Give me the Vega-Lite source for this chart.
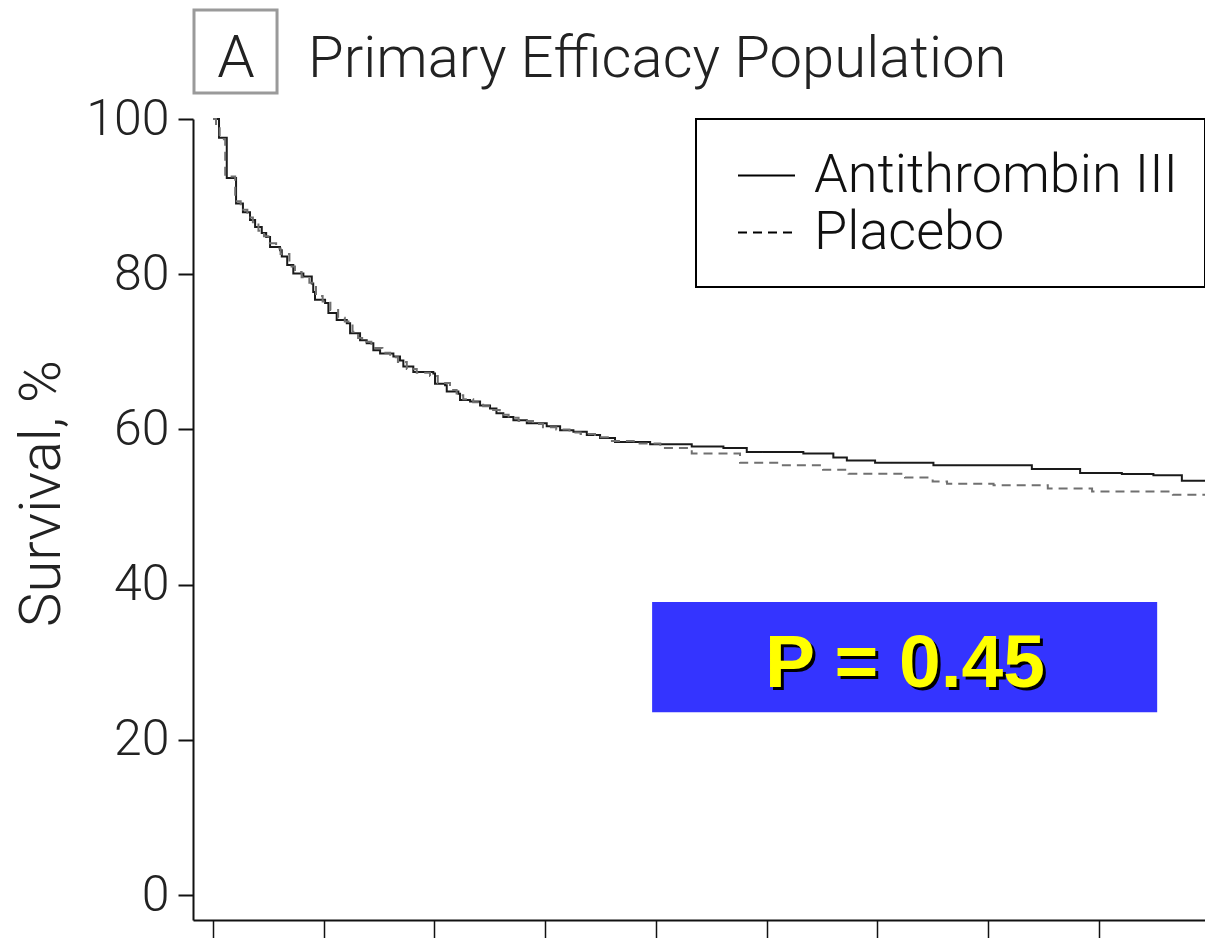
{
  "$schema": "https://vega.github.io/schema/vega-lite/v6.json",
  "autosize": "none",
  "padding": {"left": 193, "top": 119, "right": 0, "bottom": 18},
  "width": 1012,
  "height": 801,
  "background": "white",
  "config": {
    "view": {"stroke": null},
    "font": "Roboto",
    "legend": {"strokeWidth": 2}
  },
  "datasets": {
    "km": [
      {"group": "Antithrombin III", "day": 0, "surv": 100},
      {"group": "Antithrombin III", "day": 0.54, "surv": 97.6},
      {"group": "Antithrombin III", "day": 1.24, "surv": 92.4},
      {"group": "Antithrombin III", "day": 2.08, "surv": 89.1},
      {"group": "Antithrombin III", "day": 2.7, "surv": 88.0},
      {"group": "Antithrombin III", "day": 3.34, "surv": 87.0},
      {"group": "Antithrombin III", "day": 3.8, "surv": 86.1},
      {"group": "Antithrombin III", "day": 4.4, "surv": 85.3},
      {"group": "Antithrombin III", "day": 4.8, "surv": 84.8},
      {"group": "Antithrombin III", "day": 5.15, "surv": 83.5},
      {"group": "Antithrombin III", "day": 6.05, "surv": 83.1},
      {"group": "Antithrombin III", "day": 6.21, "surv": 82.3},
      {"group": "Antithrombin III", "day": 6.7, "surv": 81.2},
      {"group": "Antithrombin III", "day": 7.25, "surv": 80.1},
      {"group": "Antithrombin III", "day": 8.16, "surv": 79.7},
      {"group": "Antithrombin III", "day": 8.92, "surv": 78.8},
      {"group": "Antithrombin III", "day": 9.05, "surv": 77.7},
      {"group": "Antithrombin III", "day": 9.21, "surv": 76.7},
      {"group": "Antithrombin III", "day": 10.12, "surv": 76.3},
      {"group": "Antithrombin III", "day": 10.42, "surv": 75.0},
      {"group": "Antithrombin III", "day": 11.17, "surv": 74.1},
      {"group": "Antithrombin III", "day": 12.08, "surv": 73.7},
      {"group": "Antithrombin III", "day": 12.38, "surv": 72.4},
      {"group": "Antithrombin III", "day": 13.28, "surv": 71.5},
      {"group": "Antithrombin III", "day": 13.88, "surv": 71.1},
      {"group": "Antithrombin III", "day": 14.48, "surv": 70.2},
      {"group": "Antithrombin III", "day": 15.09, "surv": 69.8},
      {"group": "Antithrombin III", "day": 16.29, "surv": 69.4},
      {"group": "Antithrombin III", "day": 16.89, "surv": 68.9},
      {"group": "Antithrombin III", "day": 17.19, "surv": 68.1},
      {"group": "Antithrombin III", "day": 18.09, "surv": 67.4},
      {"group": "Antithrombin III", "day": 19.9, "surv": 67.2},
      {"group": "Antithrombin III", "day": 20.05, "surv": 65.9},
      {"group": "Antithrombin III", "day": 20.96, "surv": 65.7},
      {"group": "Antithrombin III", "day": 21.11, "surv": 64.9},
      {"group": "Antithrombin III", "day": 22.16, "surv": 64.6},
      {"group": "Antithrombin III", "day": 22.31, "surv": 63.8},
      {"group": "Antithrombin III", "day": 23.22, "surv": 63.6},
      {"group": "Antithrombin III", "day": 24.12, "surv": 63.1},
      {"group": "Antithrombin III", "day": 25.02, "surv": 62.7},
      {"group": "Antithrombin III", "day": 25.6, "surv": 62.1},
      {"group": "Antithrombin III", "day": 26.22, "surv": 61.6},
      {"group": "Antithrombin III", "day": 27.13, "surv": 61.2},
      {"group": "Antithrombin III", "day": 28.34, "surv": 60.8},
      {"group": "Antithrombin III", "day": 30.14, "surv": 60.4},
      {"group": "Antithrombin III", "day": 31.35, "surv": 59.9},
      {"group": "Antithrombin III", "day": 32.55, "surv": 59.7},
      {"group": "Antithrombin III", "day": 33.76, "surv": 59.3},
      {"group": "Antithrombin III", "day": 34.96, "surv": 58.9},
      {"group": "Antithrombin III", "day": 36.31, "surv": 58.4},
      {"group": "Antithrombin III", "day": 39.48, "surv": 58.1},
      {"group": "Antithrombin III", "day": 43.24, "surv": 57.8},
      {"group": "Antithrombin III", "day": 46.1, "surv": 57.6},
      {"group": "Antithrombin III", "day": 48.21, "surv": 57.1},
      {"group": "Antithrombin III", "day": 53.32, "surv": 56.9},
      {"group": "Antithrombin III", "day": 56.03, "surv": 56.4},
      {"group": "Antithrombin III", "day": 57.25, "surv": 56.0},
      {"group": "Antithrombin III", "day": 59.8, "surv": 55.7},
      {"group": "Antithrombin III", "day": 65.07, "surv": 55.4},
      {"group": "Antithrombin III", "day": 73.96, "surv": 54.9},
      {"group": "Antithrombin III", "day": 78.32, "surv": 54.4},
      {"group": "Antithrombin III", "day": 82.09, "surv": 54.25},
      {"group": "Antithrombin III", "day": 84.94, "surv": 54.1},
      {"group": "Antithrombin III", "day": 87.51, "surv": 53.4},
      {"group": "Antithrombin III", "day": 89.6, "surv": 53.4},
      {"group": "Placebo", "day": 0, "surv": 100},
      {"group": "Placebo", "day": 0.27, "surv": 98.8},
      {"group": "Placebo", "day": 0.6, "surv": 97.4},
      {"group": "Placebo", "day": 1.1, "surv": 92.6},
      {"group": "Placebo", "day": 2.0, "surv": 89.4},
      {"group": "Placebo", "day": 2.5, "surv": 88.3},
      {"group": "Placebo", "day": 3.1, "surv": 87.3},
      {"group": "Placebo", "day": 3.6, "surv": 86.4},
      {"group": "Placebo", "day": 4.1, "surv": 85.6},
      {"group": "Placebo", "day": 4.6, "surv": 84.9},
      {"group": "Placebo", "day": 5.0, "surv": 84.0},
      {"group": "Placebo", "day": 5.7, "surv": 83.3},
      {"group": "Placebo", "day": 6.1, "surv": 82.6},
      {"group": "Placebo", "day": 6.9, "surv": 81.0},
      {"group": "Placebo", "day": 7.4, "surv": 80.3},
      {"group": "Placebo", "day": 8.0, "surv": 79.6},
      {"group": "Placebo", "day": 8.7, "surv": 78.9},
      {"group": "Placebo", "day": 9.3, "surv": 77.2},
      {"group": "Placebo", "day": 9.9, "surv": 76.5},
      {"group": "Placebo", "day": 10.6, "surv": 75.4},
      {"group": "Placebo", "day": 11.3, "surv": 74.4},
      {"group": "Placebo", "day": 11.9, "surv": 73.9},
      {"group": "Placebo", "day": 12.6, "surv": 72.6},
      {"group": "Placebo", "day": 13.1, "surv": 71.8},
      {"group": "Placebo", "day": 13.7, "surv": 71.3},
      {"group": "Placebo", "day": 14.3, "surv": 70.5},
      {"group": "Placebo", "day": 15.3, "surv": 69.9},
      {"group": "Placebo", "day": 16.0, "surv": 69.3},
      {"group": "Placebo", "day": 16.7, "surv": 68.7},
      {"group": "Placebo", "day": 17.5, "surv": 67.8},
      {"group": "Placebo", "day": 18.4, "surv": 67.3},
      {"group": "Placebo", "day": 19.6, "surv": 66.9},
      {"group": "Placebo", "day": 20.3, "surv": 66.0},
      {"group": "Placebo", "day": 21.4, "surv": 65.1},
      {"group": "Placebo", "day": 22.0, "surv": 64.4},
      {"group": "Placebo", "day": 22.6, "surv": 63.9},
      {"group": "Placebo", "day": 23.5, "surv": 63.5},
      {"group": "Placebo", "day": 24.4, "surv": 63.0},
      {"group": "Placebo", "day": 25.3, "surv": 62.5},
      {"group": "Placebo", "day": 25.9, "surv": 61.9},
      {"group": "Placebo", "day": 26.7, "surv": 61.5},
      {"group": "Placebo", "day": 27.6, "surv": 61.1},
      {"group": "Placebo", "day": 28.9, "surv": 60.7},
      {"group": "Placebo", "day": 29.8, "surv": 60.3},
      {"group": "Placebo", "day": 31.0, "surv": 60.0},
      {"group": "Placebo", "day": 32.2, "surv": 59.6},
      {"group": "Placebo", "day": 33.2, "surv": 59.4},
      {"group": "Placebo", "day": 34.5, "surv": 59.0},
      {"group": "Placebo", "day": 35.9, "surv": 58.5},
      {"group": "Placebo", "day": 38.0, "surv": 58.2},
      {"group": "Placebo", "day": 40.4, "surv": 57.6},
      {"group": "Placebo", "day": 43.24, "surv": 56.9},
      {"group": "Placebo", "day": 47.6, "surv": 55.7},
      {"group": "Placebo", "day": 51.2, "surv": 55.4},
      {"group": "Placebo", "day": 55.1, "surv": 54.8},
      {"group": "Placebo", "day": 57.4, "surv": 54.3},
      {"group": "Placebo", "day": 62.5, "surv": 53.8},
      {"group": "Placebo", "day": 65.0, "surv": 53.3},
      {"group": "Placebo", "day": 66.3, "surv": 53.0},
      {"group": "Placebo", "day": 70.5, "surv": 52.8},
      {"group": "Placebo", "day": 75.4, "surv": 52.4},
      {"group": "Placebo", "day": 79.4, "surv": 52.0},
      {"group": "Placebo", "day": 86.7, "surv": 51.6},
      {"group": "Placebo", "day": 89.6, "surv": 51.6}
    ],
    "one": [{"k": 1}]
  },
  "encoding": {
    "x": {
      "type": "quantitative",
      "scale": {"domain": [-1.81, 89.6], "nice": false, "zero": false},
      "axis": {
        "title": null, "values": [0, 10, 20, 30, 40, 50, 60, 70, 80],
        "labels": false, "grid": false, "tickSize": 22, "tickColor": "#111",
        "tickWidth": 1.5, "domainColor": "#111", "domainWidth": 2
      }
    },
    "y": {
      "type": "quantitative",
      "scale": {"domain": [-3.2, 100], "nice": false, "zero": false},
      "axis": {
        "title": "Survival, %", "values": [0, 20, 40, 60, 80, 100],
        "grid": false, "tickSize": 15, "tickColor": "#111", "tickWidth": 2,
        "domainColor": "#111", "domainWidth": 2,
        "labelFont": "Roboto", "labelFontSize": 50, "labelFontWeight": 300,
        "labelColor": "#222", "labelPadding": 9,
        "titleFont": "Roboto", "titleFontSize": 58, "titleFontWeight": 300,
        "titleColor": "#222", "titlePadding": 14, "titleY": 374
      }
    }
  },
  "layer": [
    {
      "data": {"name": "km"},
      "transform": [{"filter": "datum.group === 'Antithrombin III'"}],
      "mark": {"type": "line", "interpolate": "step-after", "strokeWidth": 2, "color": "#1a1a1a"},
      "encoding": {
        "x": {"field": "day", "type": "quantitative"},
        "y": {"field": "surv", "type": "quantitative"},
        "strokeDash": {
          "field": "group", "type": "nominal",
          "scale": {"domain": ["Antithrombin III", "Placebo"], "range": [[1, 0], [9, 6]]},
          "legend": {
            "title": null, "orient": "top-right", "offset": 0,
            "padding": 27, "strokeColor": "#000", "fillColor": "white",
            "symbolType": "stroke", "symbolSize": 3249, "symbolStrokeWidth": 2,
            "symbolStrokeColor": "#000", "symbolOpacity": 1, "symbolOffset": 14,
            "labelFont": "Roboto", "labelFontSize": 54, "labelFontWeight": 300,
            "labelColor": "#111", "labelOffset": 18, "rowPadding": 0, "labelLimit": 600,
            "encode": {"symbols": {"update": {"stroke": {"value": "#000"}, "strokeWidth": {"value": 2}, "opacity": {"value": 1}}}}
          }
        }
      }
    },
    {
      "data": {"name": "km"},
      "transform": [{"filter": "datum.group === 'Placebo'"}],
      "mark": {"type": "line", "interpolate": "step-after", "strokeWidth": 2, "color": "#707070"},
      "encoding": {
        "x": {"field": "day", "type": "quantitative"},
        "y": {"field": "surv", "type": "quantitative"},
        "strokeDash": {"field": "group", "type": "nominal"}
      }
    },
    {
      "data": {"name": "one"},
      "mark": {"type": "rect", "fill": "white", "stroke": "#9a9a9a", "strokeWidth": 3},
      "encoding": {
        "x": {"datum": -1.72, "type": "quantitative"},
        "x2": {"datum": 5.78},
        "y": {"datum": 114.05, "type": "quantitative"},
        "y2": {"datum": 103.35}
      }
    },
    {
      "data": {"name": "one"},
      "mark": {"type": "text", "font": "Roboto", "fontSize": 60, "fontWeight": 300, "color": "#222", "align": "center", "baseline": "alphabetic"},
      "encoding": {
        "x": {"datum": 2.08, "type": "quantitative"},
        "y": {"datum": 105.41, "type": "quantitative"},
        "text": {"value": "A"}
      }
    },
    {
      "data": {"name": "one"},
      "mark": {"type": "text", "font": "Roboto", "fontSize": 58, "fontWeight": 300, "color": "#222", "align": "left", "baseline": "alphabetic"},
      "encoding": {
        "x": {"datum": 8.58, "type": "quantitative"},
        "y": {"datum": 105.41, "type": "quantitative"},
        "text": {"value": "Primary Efficacy Population"}
      }
    },
    {
      "data": {"name": "one"},
      "mark": {"type": "rect", "fill": "#3434ff"},
      "encoding": {
        "x": {"datum": 39.66, "type": "quantitative"},
        "x2": {"datum": 85.28},
        "y": {"datum": 37.76, "type": "quantitative"},
        "y2": {"datum": 23.58}
      }
    },
    {
      "data": {"name": "one"},
      "mark": {"type": "text", "font": "Liberation Sans", "fontSize": 75, "fontWeight": "bold", "color": "#000", "align": "center", "baseline": "alphabetic", "dx": 3, "dy": 3},
      "encoding": {
        "x": {"datum": 62.5, "type": "quantitative"},
        "y": {"datum": 26.8, "type": "quantitative"},
        "text": {"value": "P = 0.45"}
      }
    },
    {
      "data": {"name": "one"},
      "mark": {"type": "text", "font": "Liberation Sans", "fontSize": 75, "fontWeight": "bold", "color": "#ffff00", "align": "center", "baseline": "alphabetic"},
      "encoding": {
        "x": {"datum": 62.5, "type": "quantitative"},
        "y": {"datum": 26.8, "type": "quantitative"},
        "text": {"value": "P = 0.45"}
      }
    }
  ]
}
